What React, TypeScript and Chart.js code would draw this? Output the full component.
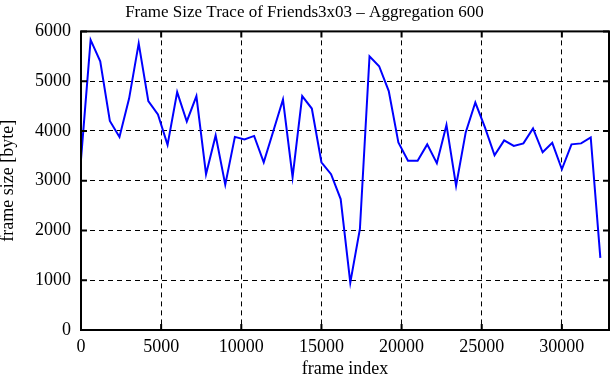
import React, { useEffect, useRef } from "react";
import { Chart, registerables } from "chart.js";

Chart.register(...registerables);

const frameIndex: number[] = [
  0, 600, 1200, 1800, 2400, 3000, 3600, 4200, 4800, 5400,
  6000, 6600, 7200, 7800, 8400, 9000, 9600, 10200, 10800, 11400,
  12000, 12600, 13200, 13800, 14400, 15000, 15600, 16200, 16800, 17400,
  18000, 18600, 19200, 19800, 20400, 21000, 21600, 22200, 22800, 23400,
  24000, 24600, 25200, 25800, 26400, 27000, 27600, 28200, 28800, 29400,
  30000, 30600, 31200, 31800, 32400,
];

const frameSize: number[] = [
  3430, 5830, 5400, 4200, 3880, 4650, 5760, 4600, 4330, 3720,
  4780, 4190, 4700, 3130, 3910, 2920, 3880, 3830, 3900, 3370,
  4000, 4630, 3070, 4700, 4450, 3370, 3130, 2630, 950, 2030,
  5500, 5300, 4800, 3770, 3400, 3400, 3730, 3350, 4120, 2900,
  3970, 4570, 4070, 3510, 3810, 3700, 3750, 4050, 3570, 3760,
  3230, 3730, 3750, 3870, 1450,
];

const xTickValues: number[] = [0, 5000, 10000, 15000, 20000, 25000, 30000];
const yTickValues: number[] = [0, 1000, 2000, 3000, 4000, 5000, 6000];

const chartTitle = "Frame Size Trace of Friends3x03 \u2013 Aggregation 600";
const xTitle = "frame index";
const yTitle = "frame size [byte]";
const xMax = 32940;
const yMax = 6000;

const FONT = "'Liberation Serif', 'Times New Roman', serif";

const framePlugin = {
  id: "frame",
  afterDraw(chart: any) {
    const { ctx, chartArea } = chart;
    const { left, right, top, bottom } = chartArea;
    const xs = chart.scales.x;
    const ys = chart.scales.y;
    ctx.save();
    ctx.strokeStyle = "#000";
    ctx.lineWidth = 2;
    ctx.setLineDash([]);
    const tl = 6;
    ctx.beginPath();
    xs.ticks.forEach((t: any) => {
      const px = xs.getPixelForValue(t.value);
      ctx.moveTo(px, bottom);
      ctx.lineTo(px, bottom - tl);
      ctx.moveTo(px, top);
      ctx.lineTo(px, top + tl);
    });
    ys.ticks.forEach((t: any) => {
      const py = ys.getPixelForValue(t.value);
      ctx.moveTo(left, py);
      ctx.lineTo(left + tl, py);
      ctx.moveTo(right, py);
      ctx.lineTo(right - tl, py);
    });
    ctx.stroke();
    ctx.strokeRect(left, top, right - left, bottom - top);
    ctx.restore();
  },
};

export default function App() {
  const ref = useRef<HTMLCanvasElement | null>(null);
  useEffect(() => {
    document.body.style.margin = "0";
    if (!ref.current) return;
    const chart = new Chart(ref.current, {
      type: "line",
      data: {
        datasets: [
          {
            data: frameIndex.map((x, i) => ({ x, y: frameSize[i] })),
            borderColor: "#0000ff",
            borderWidth: 2,
            pointRadius: 0,
            tension: 0,
            fill: false,
          },
        ],
      },
      options: {
        animation: false,
        responsive: false,
        maintainAspectRatio: false,
        layout: { padding: { left: 0, right: 2, top: 0, bottom: 0 } },
        plugins: {
          legend: { display: false },
          tooltip: { enabled: false },
          title: {
            display: true,
            text: chartTitle,
            color: "#000",
            font: { family: FONT, size: 17, weight: "normal" },
            padding: { top: 2, bottom: 9 },
          },
        },
        scales: {
          x: {
            type: "linear",
            min: 0,
            max: xMax,
            afterBuildTicks: (s: any) => {
              s.ticks = xTickValues.map((v) => ({ value: v }));
            },
            afterFit: (s: any) => {
              s.height = 50;
            },
            ticks: {
              autoSkip: false,
              color: "#000",
              padding: 6,
              maxRotation: 0,
              font: { family: FONT, size: 18 },
              callback: (v: any) => String(v),
            },
            grid: {
              color: "#000",
              lineWidth: 1,
              drawTicks: false,
            },
            border: { display: false, dash: [5, 4] },
            title: {
              display: true,
              text: xTitle,
              color: "#000",
              font: { family: FONT, size: 18 },
              padding: { top: 0, bottom: 0 },
            },
          },
          y: {
            min: 0,
            max: yMax,
            afterBuildTicks: (s: any) => {
              s.ticks = yTickValues.map((v) => ({ value: v }));
            },
            afterFit: (s: any) => {
              s.width = 81;
            },
            ticks: {
              autoSkip: false,
              color: "#000",
              padding: 10,
              font: { family: FONT, size: 18 },
              callback: (v: any) => String(v),
            },
            grid: {
              color: "#000",
              lineWidth: 1,
              drawTicks: false,
            },
            border: { display: false, dash: [5, 4] },
            title: {
              display: true,
              text: yTitle,
              color: "#000",
              font: { family: FONT, size: 18, lineHeight: 0.9 },
              padding: { top: 0, bottom: 0 },
            },
          },
        },
      },
      plugins: [framePlugin],
    });
    return () => chart.destroy();
  }, []);
  return (
    <div style={{ position: "absolute", left: 0, top: 0, width: 611, height: 380 }}>
      <canvas ref={ref} width={611} height={380} />
    </div>
  );
}
